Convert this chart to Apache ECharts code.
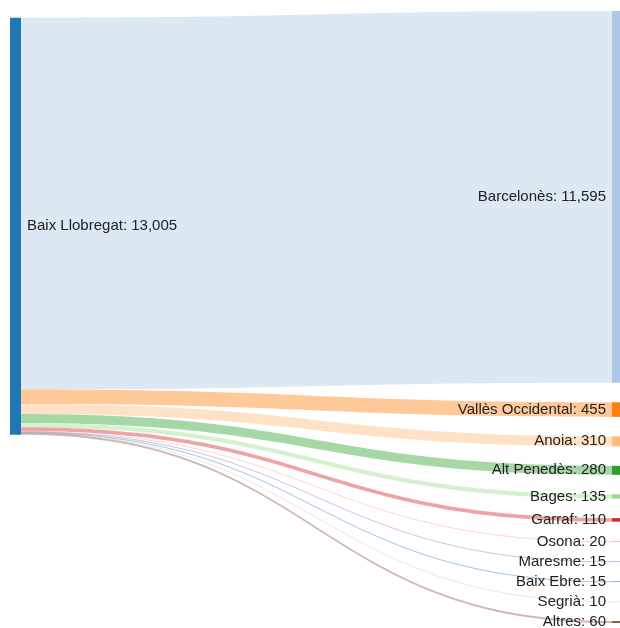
<!DOCTYPE html>
<html>
<head>
<meta charset="utf-8">
<script src="https://cdn.jsdelivr.net/npm/echarts@6/dist/echarts.min.js"></script>
<style>
  html, body { margin: 0; padding: 0; background: #fff; }
  #chart { width: 620px; height: 628px; }
</style>
</head>
<body>
<div id="chart"></div>
<script>
// origin comarca and destination comarques
const source = 'Baix Llobregat'
const targets = ['Barcelonès', 'Vallès Occidental', 'Anoia', 'Alt Penedès', 'Bages', 'Garraf', 'Osona', 'Maresme', 'Baix Ebre', 'Segrià', 'Altres']
const values = [11595, 455, 310, 280, 135, 110, 20, 15, 15, 10, 60]

const sourceColor = '#1f77b4'
const targetColors = ['#aec7e8', '#ff7f0e', '#ffbb78', '#2ca02c', '#98df8a', '#d62728', '#ff9896', '#9467bd', '#1f77b4', '#c7c7c7', '#8c564b']

const total = values.reduce((a, b) => a + b, 0)
const fmt = v => v.toLocaleString('en-US')

const nodes = [{
  name: source,
  localY: 0.011,
  itemStyle: { color: sourceColor },
  label: { position: 'right' }
}].concat(targets.map((t, i) => ({
  name: t,
  itemStyle: { color: targetColors[i] },
  label: { position: 'left' }
})))

const links = targets.map((t, i) => ({
  source: source,
  target: t,
  value: values[i],
  lineStyle: { color: targetColors[i] }
}))

const nodeTotals = { [source]: total }
targets.forEach((t, i) => { nodeTotals[t] = values[i] })

const chart = echarts.init(document.getElementById('chart'))
chart.setOption({
  animation: false,
  series: [{
    type: 'sankey',
    left: 10,
    top: 11,
    right: -3,
    bottom: 5,
    nodeWidth: 11,
    nodeGap: 19.5,
    nodeAlign: 'justify',
    layoutIterations: 0,
    draggable: false,
    emphasis: { disabled: true },
    data: nodes,
    links: links,
    itemStyle: { borderWidth: 0 },
    lineStyle: { opacity: 0.42, curveness: 0.5 },
    label: {
      fontFamily: 'Liberation Sans, Arial, sans-serif',
      fontSize: 15,
      color: '#222',
      distance: 6,
      formatter: p => p.name + ': ' + fmt(nodeTotals[p.name])
    }
  }]
})
</script>
</body>
</html>
